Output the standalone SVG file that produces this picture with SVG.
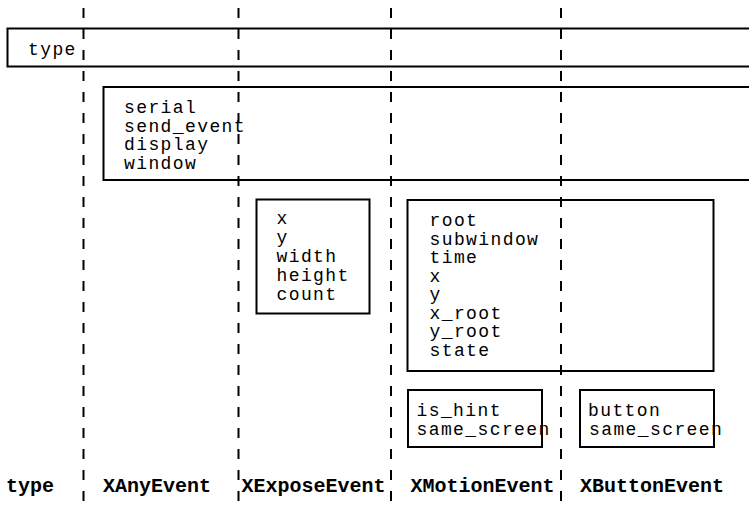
<svg xmlns="http://www.w3.org/2000/svg" width="749" height="520" viewBox="0 0 749 520">
<style>
.bg{fill:#ffffff}
.box{fill:none;stroke:#000;stroke-width:2}
.t{font-family:"Liberation Mono","Courier New",monospace;font-size:18px;letter-spacing:1.4px;fill:#000}
.b{font-family:"Liberation Mono","Courier New",monospace;font-size:20px;font-weight:bold;fill:#000}
.dash{stroke:#000;stroke-width:2;stroke-dasharray:10 11;fill:none}
</style>
<rect class="bg" x="0" y="0" width="749" height="520"/>
<g id="type-box">
<rect class="box" x="7.5" y="28.5" width="750" height="38"/>
<text class="t" x="28" y="55">type</text>
</g>
<g id="any-box">
<rect class="box" x="103.5" y="87" width="650" height="93"/>
<text class="t" x="124" y="113">serial</text>
<text class="t" x="124" y="131.5">send_event</text>
<text class="t" x="124" y="150">display</text>
<text class="t" x="124" y="168.5">window</text>
</g>
<g id="expose-box">
<rect class="box" x="256.5" y="199.5" width="113" height="114"/>
<text class="t" x="276.5" y="224">x</text>
<text class="t" x="276.5" y="243">y</text>
<text class="t" x="276.5" y="262">width</text>
<text class="t" x="276.5" y="281">height</text>
<text class="t" x="276.5" y="300">count</text>
</g>
<g id="motion-box">
<rect class="box" x="407.5" y="200" width="306" height="171"/>
<text class="t" x="429.5" y="226">root</text>
<text class="t" x="429.5" y="244.5">subwindow</text>
<text class="t" x="429.5" y="263">time</text>
<text class="t" x="429.5" y="281.5">x</text>
<text class="t" x="429.5" y="300">y</text>
<text class="t" x="429.5" y="318.5">x_root</text>
<text class="t" x="429.5" y="337">y_root</text>
<text class="t" x="429.5" y="355.5">state</text>
</g>
<g id="motion-extra">
<rect class="box" x="408" y="390" width="134" height="57"/>
<text class="t" x="416.5" y="416">is_hint</text>
<text class="t" x="416.5" y="435">same_screen</text>
</g>
<g id="button-box">
<rect class="box" x="580" y="390" width="134" height="57"/>
<text class="t" x="588" y="416">button</text>
<text class="t" x="589" y="435">same_screen</text>
</g>
<g id="labels">
<text class="b" x="6" y="492">type</text>
<text class="b" x="103" y="492">XAnyEvent</text>
<text class="b" x="241.5" y="492">XExposeEvent</text>
<text class="b" x="410.5" y="492">XMotionEvent</text>
<text class="b" x="580" y="492">XButtonEvent</text>
</g>
<g id="connectors">
<line class="dash" x1="83.5" y1="8" x2="83.5" y2="510"/>
<line class="dash" x1="238.5" y1="8" x2="238.5" y2="510"/>
<line class="dash" x1="391" y1="8" x2="391" y2="510"/>
<line class="dash" x1="561" y1="8" x2="561" y2="510"/>
</g>
</svg>
